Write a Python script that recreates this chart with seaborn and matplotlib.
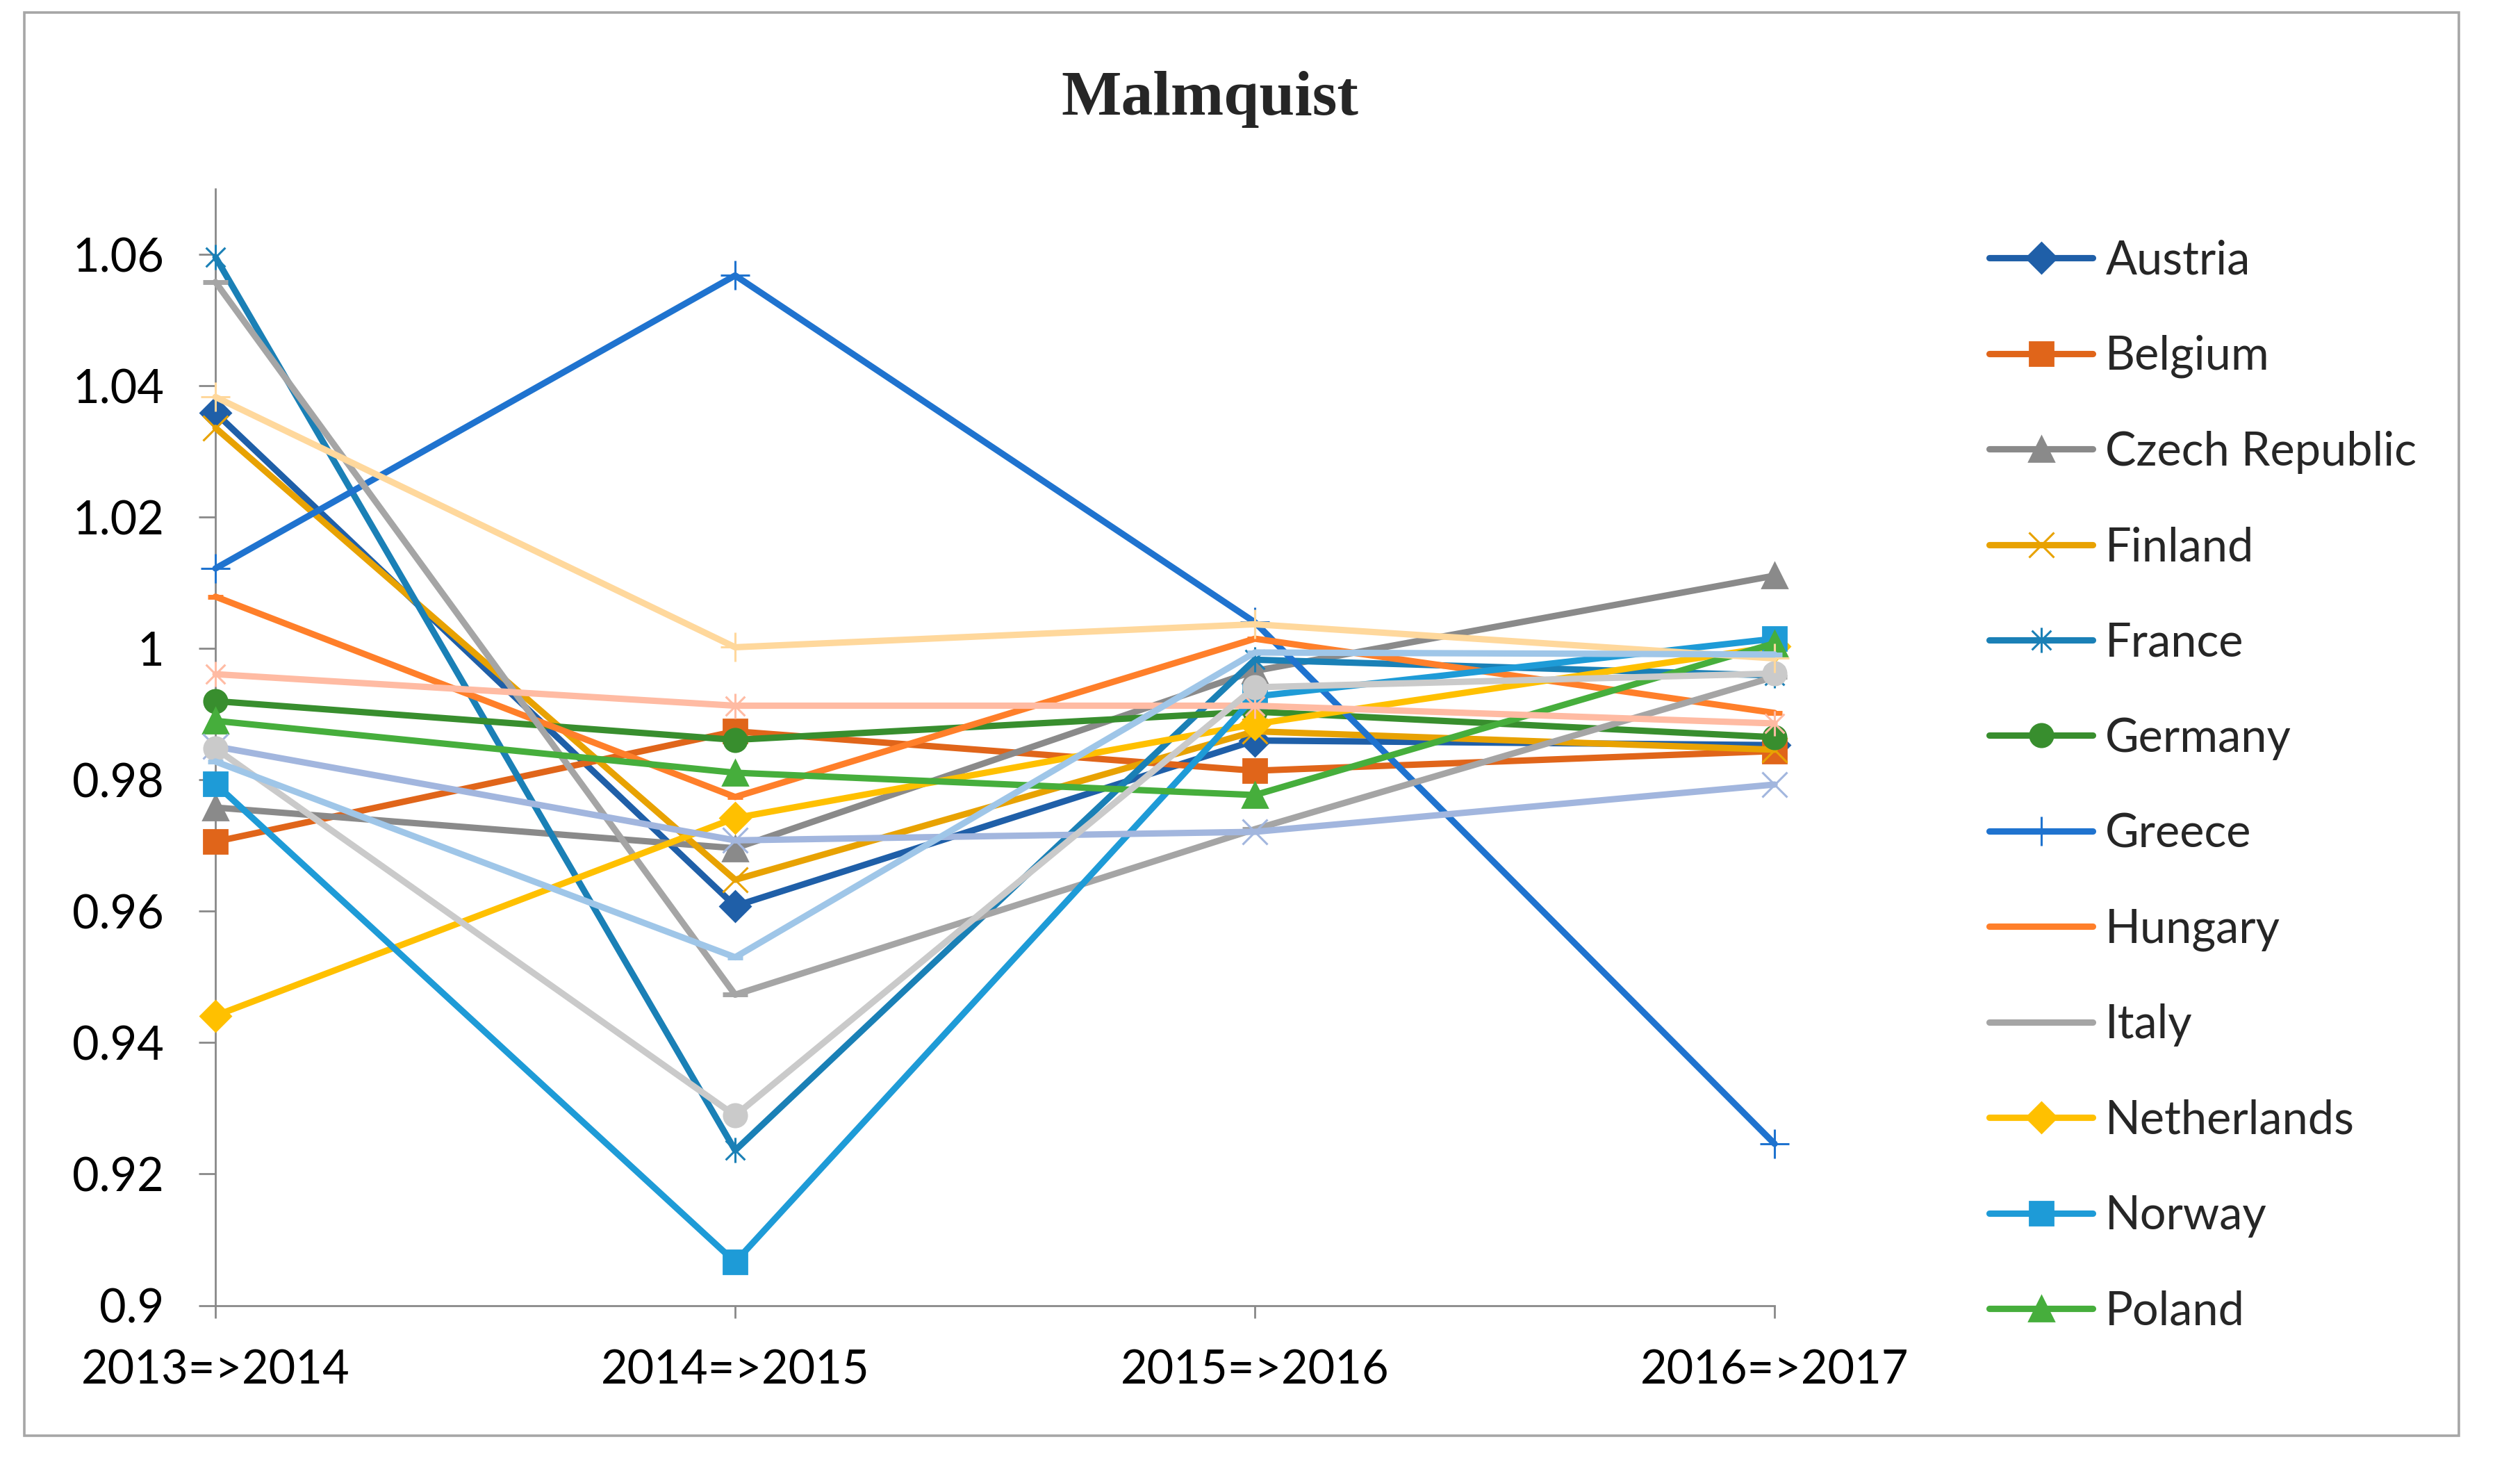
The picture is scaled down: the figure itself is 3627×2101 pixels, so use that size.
import numpy as np
import pandas as pd
import matplotlib
matplotlib.use("Agg")
import matplotlib.pyplot as plt
from matplotlib.path import Path
from matplotlib.patches import Rectangle
import seaborn as sns

# Malmquist index per country and period
periods = ["2013=>2014", "2014=>2015", "2015=>2016", "2016=>2017"]

austria = [1.0359, 0.9608, 0.9860, 0.9853]
belgium = [0.9706, 0.9874, 0.9814, 0.9844]
czech = [0.9758, 0.9696, 0.9966, 1.0111]
finland = [1.0336, 0.9648, 0.9874, 0.9846]
france = [1.0596, 0.9236, 0.9983, 0.9959]
germany = [0.9920, 0.9861, 0.9904, 0.9865]
greece = [1.0122, 1.0568, 1.0040, 0.9246]
hungary = [1.0079, 0.9774, 1.0015, 0.9902]
italy = [1.0558, 0.9473, 0.9725, 0.9957]
netherlands = [0.9441, 0.9742, 0.9885, 1.0003]
norway = [0.9794, 0.9066, 0.9927, 1.0015]
poland = [0.9890, 0.9811, 0.9777, 1.0008]
# series 13-17 are drawn but the legend of the original is cut off after Poland
series13 = [0.9851, 0.9708, 0.9721, 0.9793]
series14 = [0.9961, 0.9913, 0.9913, 0.9886]
series15 = [0.9848, 0.9289, 0.9941, 0.9962]
series16 = [1.0383, 1.0002, 1.0037, 0.9985]
series17 = [0.9828, 0.9530, 0.9994, 0.9991]

names = ["Austria", "Belgium", "Czech Republic", "Finland", "France", "Germany",
         "Greece", "Hungary", "Italy", "Netherlands", "Norway", "Poland",
         "Series 13", "Series 14", "Series 15", "Series 16", "Series 17"]
values = [austria, belgium, czech, finland, france, germany, greece, hungary,
          italy, netherlands, norway, poland,
          series13, series14, series15, series16, series17]
colors = ["#1F5FA8", "#E0651A", "#8A8A8A", "#E8A202", "#1A80B6", "#388E2E",
          "#1F73CF", "#FF7F2A", "#A5A5A5", "#FFC000", "#1E9BD7", "#46AE3C",
          "#A2B6DE", "#FFBBA3", "#CACACA", "#FFD89C", "#9FC6E8"]

# Excel style star marker: an x with a vertical bar
star = Path([(-1, -1), (1, 1), (-1, 1), (1, -1), (0, -1.3), (0, 1.3)],
            [Path.MOVETO, Path.LINETO, Path.MOVETO, Path.LINETO, Path.MOVETO, Path.LINETO])

# marker, size, edge width, filled
marker_cycle = [("D", 11, 1, True), ("s", 12, 1, True), ("^", 13, 1, True),
                ("x", 13, 1.1, False), (star, 13, 1.1, False), ("o", 12, 1, True),
                ("+", 15, 1.1, False), ("_", 8, 2.5, False), ("_", 13, 2.5, False)]
markers = [marker_cycle[i % 9] for i in range(len(names))]

df = pd.DataFrame({
    "period": np.tile(periods, len(names)),
    "country": np.repeat(names, len(periods)),
    "value": np.concatenate(values),
})

sns.set_style("white")
plt.rcParams["font.family"] = ["Lato", "DejaVu Sans"]

LW = 3.3

fig = plt.figure(figsize=(18.135, 10.505), dpi=200)
ax = fig.add_axes([0.0855, 0.1059, 0.6187, 0.7648])

for i, name in enumerate(names):
    mk, ms, mew, filled = markers[i]
    sub = df[df["country"] == name]
    sns.lineplot(data=sub, x="period", y="value", ax=ax, color=colors[i],
                 label=name, marker=mk, markersize=ms,
                 markeredgewidth=mew, markeredgecolor=colors[i],
                 markerfacecolor=colors[i] if filled else "none",
                 clip_on=False, zorder=3 + i, sort=False)

for line in ax.lines:
    line.set_linewidth(LW)

ax.set_xlim(0, 3)
ax.set_ylim(0.9, 1.07)
ax.set_yticks(np.arange(0.9, 1.0601, 0.02))
ax.set_yticklabels(["0.9", "0.92", "0.94", "0.96", "0.98", "1", "1.02", "1.04", "1.06"])
ax.set_xlabel("")
ax.set_ylabel("")

for side in ["top", "right"]:
    ax.spines[side].set_visible(False)
for side in ["left", "bottom"]:
    ax.spines[side].set_color("#898989")
    ax.spines[side].set_linewidth(1.0)

ax.tick_params(axis="y", direction="out", length=8.6, width=1, color="#898989",
               pad=18, labelsize=24, labelcolor="black", left=True)
ax.tick_params(axis="x", direction="out", length=6.5, width=1, color="#898989",
               pad=16, labelsize=24, labelcolor="black", bottom=True)

handles, labels = ax.get_legend_handles_labels()
leg = ax.legend(handles[:12], labels[:12], loc="upper left",
                bbox_to_anchor=(2863 / 3627, 0.836), bbox_transform=fig.transFigure,
                frameon=False, fontsize=24, borderpad=0, borderaxespad=0,
                handlelength=2.24, handletextpad=0.27, labelspacing=1.13)
for h in leg.get_lines():
    h.set_linewidth(LW)

fig.text(0.480, 0.932, "Malmquist", ha="center", va="center", fontsize=33,
         fontweight="bold", family=["Liberation Serif", "DejaVu Serif"])

fig.add_artist(Rectangle((35 / 3627, 1 - 2066 / 2101), 3504 / 3627, 2048 / 2101,
                         transform=fig.transFigure, fill=False,
                         edgecolor="#A6A6A6", linewidth=1.3))

fig.savefig("out.png", dpi=200)
